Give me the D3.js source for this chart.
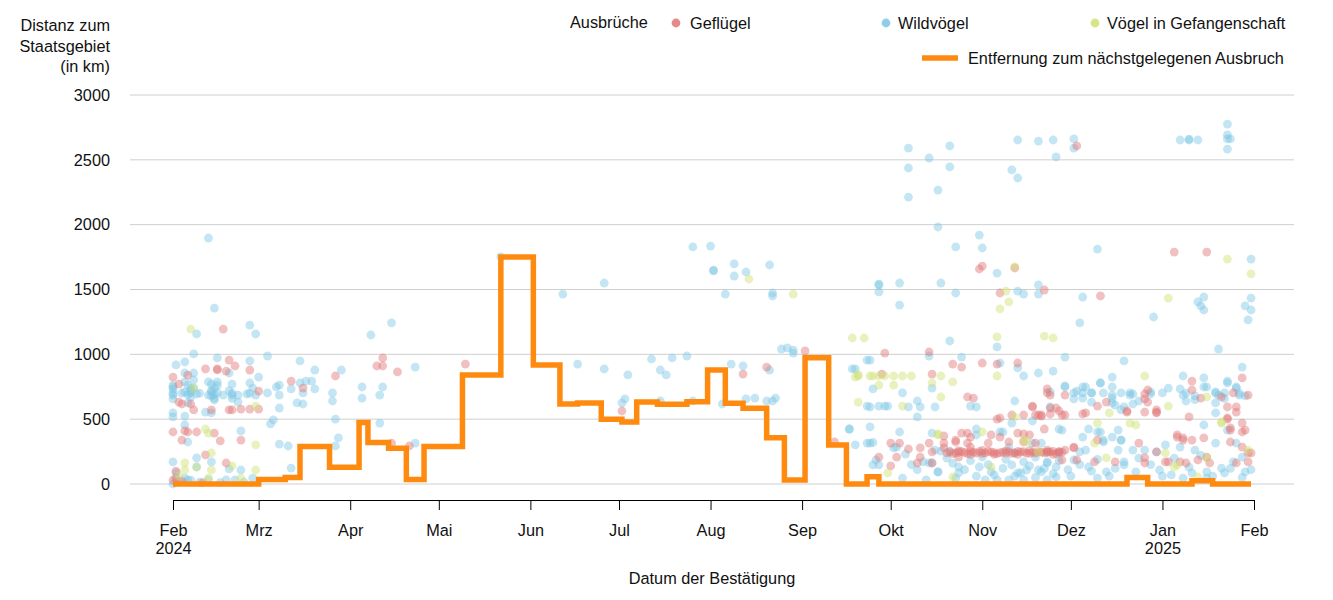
<!DOCTYPE html>
<html>
<head>
<meta charset="utf-8">
<script src="https://cdn.jsdelivr.net/npm/d3@7"></script>
<style>
  html, body { margin: 0; padding: 0; background: #fff; }
  svg { font-family: Arial, "Liberation Sans", sans-serif; }
</style>
</head>
<body>
<svg id="chart" width="1333" height="600"></svg>
<script>
// ---------- DATA ----------
const startDate = "2024-02-01";
const endDate = "2025-02-01";

// Step line: nearest outbreak distance
const stepDates = ["2024-02-01","2024-03-01","2024-03-10","2024-03-15","2024-03-25","2024-04-04","2024-04-07","2024-04-14","2024-04-20","2024-04-26","2024-05-09","2024-05-22","2024-06-02","2024-06-11","2024-06-17","2024-06-25","2024-07-02","2024-07-07","2024-07-14","2024-07-24","2024-07-31","2024-08-06","2024-08-12","2024-08-20","2024-08-26","2024-09-02","2024-09-10","2024-09-16","2024-09-23","2024-09-27","2024-12-20","2024-12-27","2025-01-11","2025-01-18","2025-01-31"];
const stepKm = [0,35,50,290,130,475,320,275,35,290,840,1750,918,617,625,500,478,632,615,635,880,623,585,357,31,974,300,0,55,0,50,0,25,0,0];

// Outbreaks: [days since 2024-02-01, km]
const wildvoegel = [
[12,1897],[14,1357],[8,1157],[26,1226],[28,1157],[1,918],[4,941],[7,1003],[15,972],[26,949],[32,987],[43,949],[48,879],[57,879],[67,1149],[74,1242],[82,902],[64,748],[71,748],[64,663],[70,686],[70,470],[82,316],[54,702],[54,640],[55,501],[56,355],[55,293],[48,733],[47,794],[45,794],[43,779],[44,702],[42,625],[44,617],[40,733],[40,123],[36,763],[35,748],[36,686],[36,586],[32,702],[34,494],[33,463],[36,308],[39,293],
[0,748],[0,686],[0,656],[0,548],[0,517],[0,170],[1,85],[0,0],[4,856],[4,787],[5,763],[4,710],[6,702],[7,856],[7,802],[8,694],[5,625],[4,524],[4,455],[5,324],[8,201],[8,131],[12,787],[15,787],[14,740],[15,702],[14,648],[12,686],[11,555],[13,548],[17,686],[19,856],[20,771],[20,686],[22,686],[22,632],[23,409],[13,170],[19,116],[23,108],[26,779],[27,740],[28,686],[29,825],[25,694],[5,31],[12,31],[18,31],[21,31],[27,46],[4,46],[2,20],[9,15],[16,10],[24,15],[0,760],[0,700],[6,720],[13,720],[13,770],[13,680],[14,660],[6,740],[6,670],[3,700],[9,700],[19,720],[20,700],[13,710],[14,690],[5,690],[0,730],[20,660],[26,700],[15,760],[7,740],[1,20],[6,30],
[111,1751],[132,1465],[146,1550],[137,925],[146,887],[154,841],[152,625],[153,656],[162,964],[165,879],[167,841],[169,972],[174,987],[176,1828],[182,1835],[183,1643],[183,1650],[190,1697],[190,1604],[194,1635],[187,1465],[189,925],[193,910],[202,879],[202,1689],[203,1473],[203,1450],[194,656],[197,663],[201,640],[203,640],[204,663],[186,617],[206,1041],[208,1049],[210,1033],[210,1010],[229,424],[231,301],[230,887],[235,316],[235,956],[165,640],[176,640],
[249,2591],[256,2514],[263,2607],[249,2437],[263,2445],[259,2267],[249,2213],[259,1982],[273,1920],[265,1828],[274,1820],[239,1542],[239,1535],[239,1481],[246,1550],[260,1550],[265,1473],[246,1380],[263,1103],[236,956],[231,887],[256,987],[267,979],[237,733],[247,702],[257,740],[252,640],[235,601],[236,594],[239,601],[241,601],[242,601],[249,594],[253,594],[258,594],[270,601],[272,594],[252,517],[229,424],[236,440],[246,401],[257,393],[236,316],[237,320],[244,278],[272,424],[238,185],[245,285],[258,262],[260,254],[263,254],[254,170],[257,162],[259,93],[266,131],[266,85],[272,378],[273,131],[277,93],[280,401],[283,285],[285,239],[284,147],[286,85],[291,316],[292,208],[294,316],[293,108],[296,170],[247,46],[255,31],[265,46],[275,31],[279,31],[283,31],[288,31],[296,31],[237,147],[287,85],[289,108],[294,93],[296,162],[256,162],[259,93],[239,147],
[262,200],[264,160],[268,110],[270,180],[272,60],[274,210],[276,150],[278,70],[281,120],[282,190],[285,60],[288,170],[290,140],[292,50],[295,120],[298,80],[300,180],[303,110],[304,60],[307,150],[311,100],[313,190],[317,60],[319,120],[252,110],[250,150],[248,230],
[286,2653],[293,2645],[298,2653],[305,2661],[305,2591],[299,2522],[284,2422],[286,2360],[313,1812],[279,1627],[293,1535],[293,1465],[286,1488],[288,1465],[308,1442],[307,1242],[279,1057],[302,979],[280,933],[286,895],[288,833],[293,856],[298,871],[318,825],[314,779],[308,748],[311,702],[302,756],[305,702],[297,710],[285,640],[305,656],[308,663],[311,632],[318,663],[319,609],[321,571],[291,486],[300,424],[308,362],[313,401],[315,324],[321,339],[281,401],[284,470],
[357,2776],[341,2653],[344,2653],[344,2660],[347,2653],[357,2692],[357,2661],[358,2661],[357,2583],[365,1735],[365,1434],[363,1373],[365,1342],[364,1265],[349,1442],[347,1404],[348,1373],[349,1342],[332,1288],[354,1041],[322,949],[362,902],[342,833],[349,818],[349,748],[357,794],[360,748],
[302,748],[309,748],[314,779],[318,748],[306,717],[308,702],[311,702],[315,702],[318,686],[318,625],[321,702],[324,702],[324,686],[325,617],[322,594],[331,710],[335,702],[337,740],[341,733],[342,686],[343,640],[346,679],[350,748],[353,710],[354,686],[356,702],[357,779],[360,740],[361,686],[363,679],[353,625],[353,548],[297,594],[310,424],[314,401],[320,416],[318,362],[321,339],[315,339],[309,262],[307,247],[305,185],[320,262],[325,262],[329,262],[333,247],[336,301],[341,285],[346,262],[349,455],[353,316],[357,416],[360,316],[362,208],[301,416],[300,239],[299,131],[310,131],[316,93],[322,147],[322,170],[326,93],[334,108],[338,70],[345,85],[350,93],[355,123],[356,85],[359,170],[363,93],[299,54],[313,46],[342,46],[350,46],[325,694],[331,694],[343,700],[353,700],[356,660],[361,700],[327,640],[346,650],
[327,200],[331,150],[335,60],[339,200],[344,130],[348,220],[352,60],[358,120],[362,50],[365,110]
];

const gefluegel = [
[11,887],[15,887],[15,880],[18,871],[19,956],[21,910],[26,879],[29,717],[19,571],[20,571],[23,578],[26,578],[29,578],[0,825],[2,771],[2,632],[3,617],[0,401],[3,339],[5,401],[8,401],[14,393],[16,332],[23,339],[11,224],[1,100],[18,162],[17,1195],[5,840],[6,617],[7,571],[13,571],[4,409],[0,30],[1,45],[3,20],[10,10],
[55,833],[40,794],[44,740],[71,972],[69,910],[71,910],[76,864],[74,316],[80,293],[99,925],[152,563],[193,848],[201,902],[214,1026],[224,324],
[241,1010],[256,1018],[264,925],[267,902],[274,933],[273,1658],[274,1681],[269,671],[271,663],[257,848],[240,848],[246,316],[243,316],[239,208],[243,139],[253,278],[256,316],[261,316],[265,339],[267,393],[270,362],[252,162],[257,162],[245,208],[249,270],[253,208],[257,247],[261,370],[261,278],[265,324],[266,208],[269,393],[269,316],[270,285],
[263,247],[265,240],[267,250],[269,235],[271,245],[273,250],[275,240],[277,247],[279,235],[281,245],[283,250],[285,240],[287,247],[289,238],[291,245],[293,250],[295,240],[297,247],[299,235],[301,245],[264,235],[268,243],[272,238],[276,252],[280,242],[284,236],[288,250],[292,238],[296,243],[300,250],
[266,245],[270,252],[274,236],[278,242],[282,238],[286,252],[290,236],[294,246],[298,252],[262,240],[266,258],[274,260],[282,255],[290,258],[298,228],[270,228],[278,228],[286,228],
[279,501],[284,532],[288,532],[291,594],[292,532],[294,524],[295,424],[280,362],[277,378],[276,316],[283,324],[286,393],[288,324],[290,378],[292,316],[296,262],
[285,1666],[295,1496],[280,1473],[314,1450],[306,2607],[279,925],[286,933],[296,733],[297,686],[302,686],[299,586],[300,563],[302,532],[291,601],[293,532],[294,532],[297,540],[308,540],[309,548],[313,601],[316,632],[280,509],[288,386],[305,285],[313,339],
[296,702],[297,586],[301,532],[323,555],[329,694],[330,632],[333,555],[344,517],[345,725],[348,663],[357,501],[359,702],[360,594],[358,416],[362,401],[296,247],[300,247],[302,262],[305,278],[301,185],[306,185],[312,170],[319,170],[327,316],[329,201],[333,247],[337,170],[341,170],[340,362],[342,339],[345,339],[349,355],[350,208],[358,324],[360,162],[364,239],
[339,1789],[350,1789],[362,818],[345,794],[330,725],[329,656],[329,555],[333,571],[333,548],[323,563],[355,671],[357,594],[357,509],[360,555],[362,470],[364,686],[340,378],[342,355],[363,416],[358,432],[362,285],[365,239],[329,162],[336,170],[343,162],[347,185],[351,162],[364,170]
];

const gefangenschaft = [
[6,1195],[7,740],[11,424],[12,393],[13,239],[4,162],[4,108],[8,131],[20,139],[28,301],[28,108],[13,108],[23,46],[28,601],[12,46],[2,60],
[195,1581],[210,1465],[230,1126],[234,1126],[232,841],[232,632],
[232,833],[236,833],[237,833],[239,833],[241,833],[244,833],[247,833],[250,833],[244,763],[239,763],[257,779],[260,833],[264,787],[260,671],[247,601],[259,386],[231,824],[264,54],[242,85],[277,131],[259,378],[274,401],
[285,1674],[282,1488],[283,1404],[280,1350],[279,1134],[295,1141],[298,1126],[279,833],[317,548],[313,470],[288,340],[285,517],[289,324],[293,247],
[357,1735],[365,1620],[337,1434],[329,833],[337,601],[350,671],[355,470],[326,455],[364,262],[336,239],[339,131],[347,54],[324,470],[312,316],[316,201],[355,478],[350,201],[340,147]
];

const yTicks = [0,500,1000,1500,2000,2500,3000];
const monthNames = ["Jan","Feb","Mrz","Apr","Mai","Jun","Jul","Aug","Sep","Okt","Nov","Dez"];

// ---------- CHART ----------
const FS = 16.3;
const svg = d3.select("#chart");
const parse = d3.timeParse("%Y-%m-%d");
const t0 = parse(startDate), t1 = parse(endDate);

const x = d3.scaleTime().domain([t0, t1]).range([173, 1254]);
const y = d3.scaleLinear().domain([0, 3000]).range([484, 95]);

const colors = { gefluegel: "#e07575", wild: "#7cc5e4", gef: "#cfe070" };

// gridlines
svg.append("g").selectAll("line").data(yTicks).join("line")
  .attr("x1", 130).attr("x2", 1294)
  .attr("y1", d => y(d)).attr("y2", d => y(d))
  .attr("stroke", "#cfcfcf").attr("stroke-width", 1);

// y labels
svg.append("g").selectAll("text").data(yTicks).join("text")
  .attr("x", 110).attr("y", d => y(d)).attr("dy", "0.35em")
  .attr("text-anchor", "end").attr("font-size", FS).attr("fill", "#111")
  .text(d => d);

// y title
const yTitle = ["Distanz zum", "Staatsgebiet", "(in km)"];
svg.append("g").selectAll("text").data(yTitle).join("text")
  .attr("x", 110).attr("y", (d, i) => 31 + i * 20.5)
  .attr("text-anchor", "end").attr("font-size", FS).attr("fill", "#111")
  .text(d => d);

// dots
const toDate = d => d3.timeDay.offset(t0, d[0]);
function dots(data, color) {
  svg.append("g").selectAll("circle").data(data).join("circle")
    .attr("cx", d => x(toDate(d))).attr("cy", d => y(d[1]))
    .attr("r", 4.4).attr("fill", color).attr("fill-opacity", 0.45);
}
dots(wildvoegel, colors.wild);
dots(gefluegel, colors.gefluegel);
dots(gefangenschaft, colors.gef);

// step line
const stepData = stepDates.map((d, i) => [parse(d), stepKm[i]]);
svg.append("path").datum(stepData)
  .attr("d", d3.line().x(d => x(d[0])).y(d => y(d[1])).curve(d3.curveStepAfter))
  .attr("fill", "none").attr("stroke", "#ff8a10").attr("stroke-width", 5.5)
  .attr("stroke-linejoin", "miter");

// x axis
const xAxis = d3.axisBottom(x)
  .ticks(d3.timeMonth.every(1))
  .tickSize(10).tickSizeOuter(0).tickPadding(14)
  .tickFormat(d => monthNames[d.getMonth()]);
const gx = svg.append("g").attr("transform", "translate(0,500)").call(xAxis);
gx.select(".domain").attr("stroke", "#000");
gx.selectAll(".tick line").attr("stroke", "#000");
gx.selectAll(".tick text").attr("font-size", FS).attr("fill", "#111")
  .attr("font-family", "Arial, 'Liberation Sans', sans-serif")
  .each(function(d) {
    const el = d3.select(this);
    const isFirst = +d === +t0;
    const isJan = d.getMonth() === 0;
    if (isFirst || isJan) {
      el.append("tspan").attr("x", 0).attr("dy", "1.15em").text(d.getFullYear());
    }
  });

// x title
svg.append("text").attr("x", 712).attr("y", 584).attr("text-anchor", "middle")
  .attr("font-size", FS).attr("fill", "#111").text("Datum der Bestätigung");

// legend
const lg = svg.append("g").attr("font-size", FS).attr("fill", "#111");
lg.append("text").attr("x", 570).attr("y", 28).text("Ausbrüche");
const legItems = [
  { label: "Geflügel", color: colors.gefluegel, cx: 676, tx: 690 },
  { label: "Wildvögel", color: colors.wild, cx: 886, tx: 898 },
  { label: "Vögel in Gefangenschaft", color: colors.gef, cx: 1095, tx: 1107 }
];
legItems.forEach(it => {
  lg.append("circle").attr("cx", it.cx).attr("cy", 23).attr("r", 4.4)
    .attr("fill", it.color).attr("fill-opacity", 0.85);
  lg.append("text").attr("x", it.tx).attr("y", 29).text(it.label);
});
lg.append("line").attr("x1", 922).attr("x2", 958).attr("y1", 58).attr("y2", 58)
  .attr("stroke", "#ff8a10").attr("stroke-width", 5.5);
lg.append("text").attr("x", 968).attr("y", 64).text("Entfernung zum nächstgelegenen Ausbruch");
</script>
</body>
</html>
